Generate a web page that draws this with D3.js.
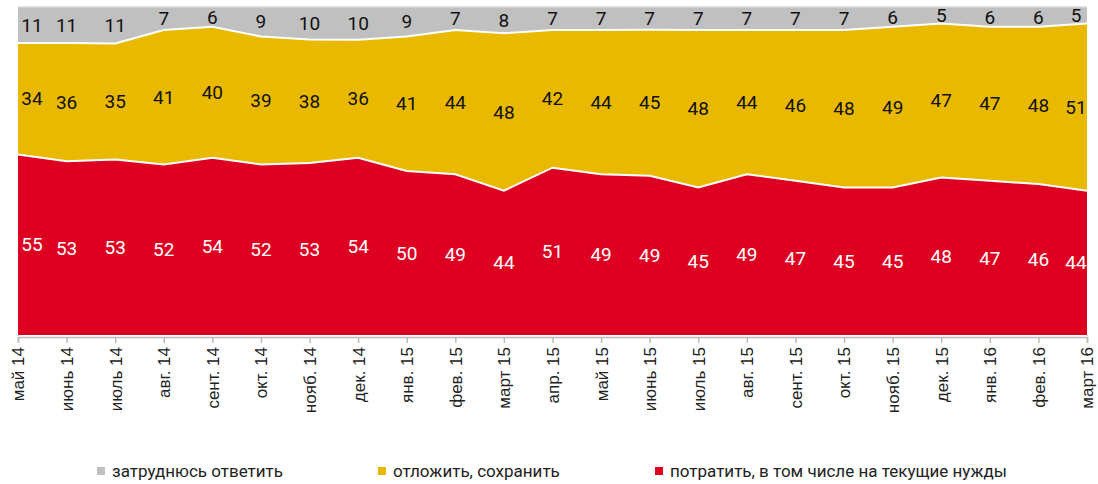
<!DOCTYPE html>
<html>
<head>
<meta charset="utf-8">
<script src="https://cdn.jsdelivr.net/npm/d3@7"></script>
<style>
  body { margin: 0; background: #fff; }
  .axis text { font-family: "Liberation Sans", Arial, sans-serif; font-size: 17px; fill: #222; }
  .val { font-family: Roboto, "Liberation Sans", sans-serif; font-size: 19px; }
  .legend text { font-family: Roboto, "Liberation Sans", sans-serif; font-size: 17px; fill: #222; }
</style>
</head>
<body>
<div id="chart"></div>
<script>
// months
var months = ["май 14", "июнь 14", "июль 14", "авг. 14", "сент. 14", "окт. 14", "нояб. 14", "дек. 14",
    "янв. 15", "фев. 15", "март 15", "апр. 15", "май 15", "июнь 15", "июль 15", "авг. 15",
    "сент. 15", "окт. 15", "нояб. 15", "дек. 15", "янв. 16", "фев. 16", "март 16"];

// series values (%)
var spend = [55, 53, 53, 52, 54, 52, 53, 54, 50, 49, 44, 51, 49, 49, 45, 49, 47, 45, 45, 48, 47, 46, 44];
var save = [34, 36, 35, 41, 40, 39, 38, 36, 41, 44, 48, 42, 44, 45, 48, 44, 46, 48, 49, 47, 47, 48, 51];
var unsure = [11, 11, 11, 7, 6, 9, 10, 10, 9, 7, 8, 7, 7, 7, 7, 7, 7, 7, 6, 5, 6, 6, 5];

var seriesNames = ["потратить, в том числе на текущие нужды", "отложить, сохранить", "затруднюсь ответить"];
var seriesKeys = ["spend", "save", "unsure"];
var colors = ["#de0021", "#e9b900", "#c0c0c0"];
var labelColors = ["#fff", "#111", "#111"];

var width = 1098, height = 484;
var margin = { top: 7, right: 11, bottom: 149, left: 18 };
var innerW = width - margin.left - margin.right;
var innerH = height - margin.top - margin.bottom;

var rows = months.map(function(m, i) {
    return { month: m, spend: spend[i], save: save[i], unsure: unsure[i] };
});

var stack = d3.stack().keys(seriesKeys).offset(d3.stackOffsetExpand);
var layers = stack(rows);

var x = d3.scalePoint().domain(months).range([0, innerW]);
var y = d3.scaleLinear().domain([0, 1]).range([innerH, 0]);

var svg = d3.select("#chart").append("svg")
    .attr("width", width)
    .attr("height", height);

var g = svg.append("g")
    .attr("transform", "translate(" + margin.left + "," + margin.top + ")");

var area = d3.area()
    .x(d => x(d.data.month))
    .y0(d => y(d[0]))
    .y1(d => y(d[1]));

g.selectAll("path.layer")
    .data(layers)
    .enter().append("path")
    .attr("class", "layer")
    .attr("fill", (d, i) => colors[i])
    .attr("d", area);

// white separators
var line = d3.line()
    .x(d => x(d.data.month))
    .y(d => y(d[1]));

g.selectAll("path.sep")
    .data(layers.slice(0, 2))
    .enter().append("path")
    .attr("class", "sep")
    .attr("fill", "none")
    .attr("stroke", "#fff")
    .attr("stroke-width", 2)
    .attr("d", line);

// top border
g.append("line")
    .attr("x1", 0).attr("x2", innerW)
    .attr("y1", 0).attr("y2", 0)
    .attr("stroke", "#d9d9d9")
    .attr("stroke-width", 1.5);

// value labels
layers.forEach(function(layer, li) {
    var vals = [spend, save, unsure][li];
    g.selectAll("text.v" + li)
        .data(layer)
        .enter().append("text")
        .attr("class", "val")
        .attr("x", d => Math.min(Math.max(x(d.data.month), 14), innerW - 11))
        .attr("y", d => y((d[0] + d[1]) / 2))
        .attr("dy", "0.35em")
        .attr("text-anchor", "middle")
        .attr("fill", labelColors[li])
        .text((d, i) => vals[i]);
});

// x axis
var xAxis = d3.axisBottom(x).tickSize(6).tickPadding(6);

var ax = svg.append("g")
    .attr("class", "axis")
    .attr("transform", "translate(" + margin.left + "," + (margin.top + innerH + 2) + ")")
    .call(xAxis);

ax.select(".domain").attr("stroke", "#bbb").attr("stroke-width", 1.5);
ax.selectAll(".tick line").attr("stroke", "#bbb").attr("stroke-width", 1.5);
ax.selectAll(".tick text")
    .attr("transform", "rotate(-90)")
    .attr("text-anchor", "end")
    .attr("x", -10)
    .attr("y", 0)
    .attr("dy", "0.35em");

// legend
var legendItems = [
    { name: seriesNames[2], color: colors[2], x: 97 },
    { name: seriesNames[1], color: colors[1], x: 378 },
    { name: seriesNames[0], color: colors[0], x: 655 }
];

var legend = svg.append("g").attr("class", "legend")
    .selectAll("g")
    .data(legendItems)
    .enter().append("g")
    .attr("transform", d => "translate(" + d.x + ",467)");

legend.append("rect")
    .attr("width", 8).attr("height", 8)
    .attr("fill", d => d.color);

legend.append("text")
    .attr("x", 15)
    .attr("y", 4)
    .attr("dy", "0.35em")
    .text(d => d.name);
</script>
</body>
</html>
